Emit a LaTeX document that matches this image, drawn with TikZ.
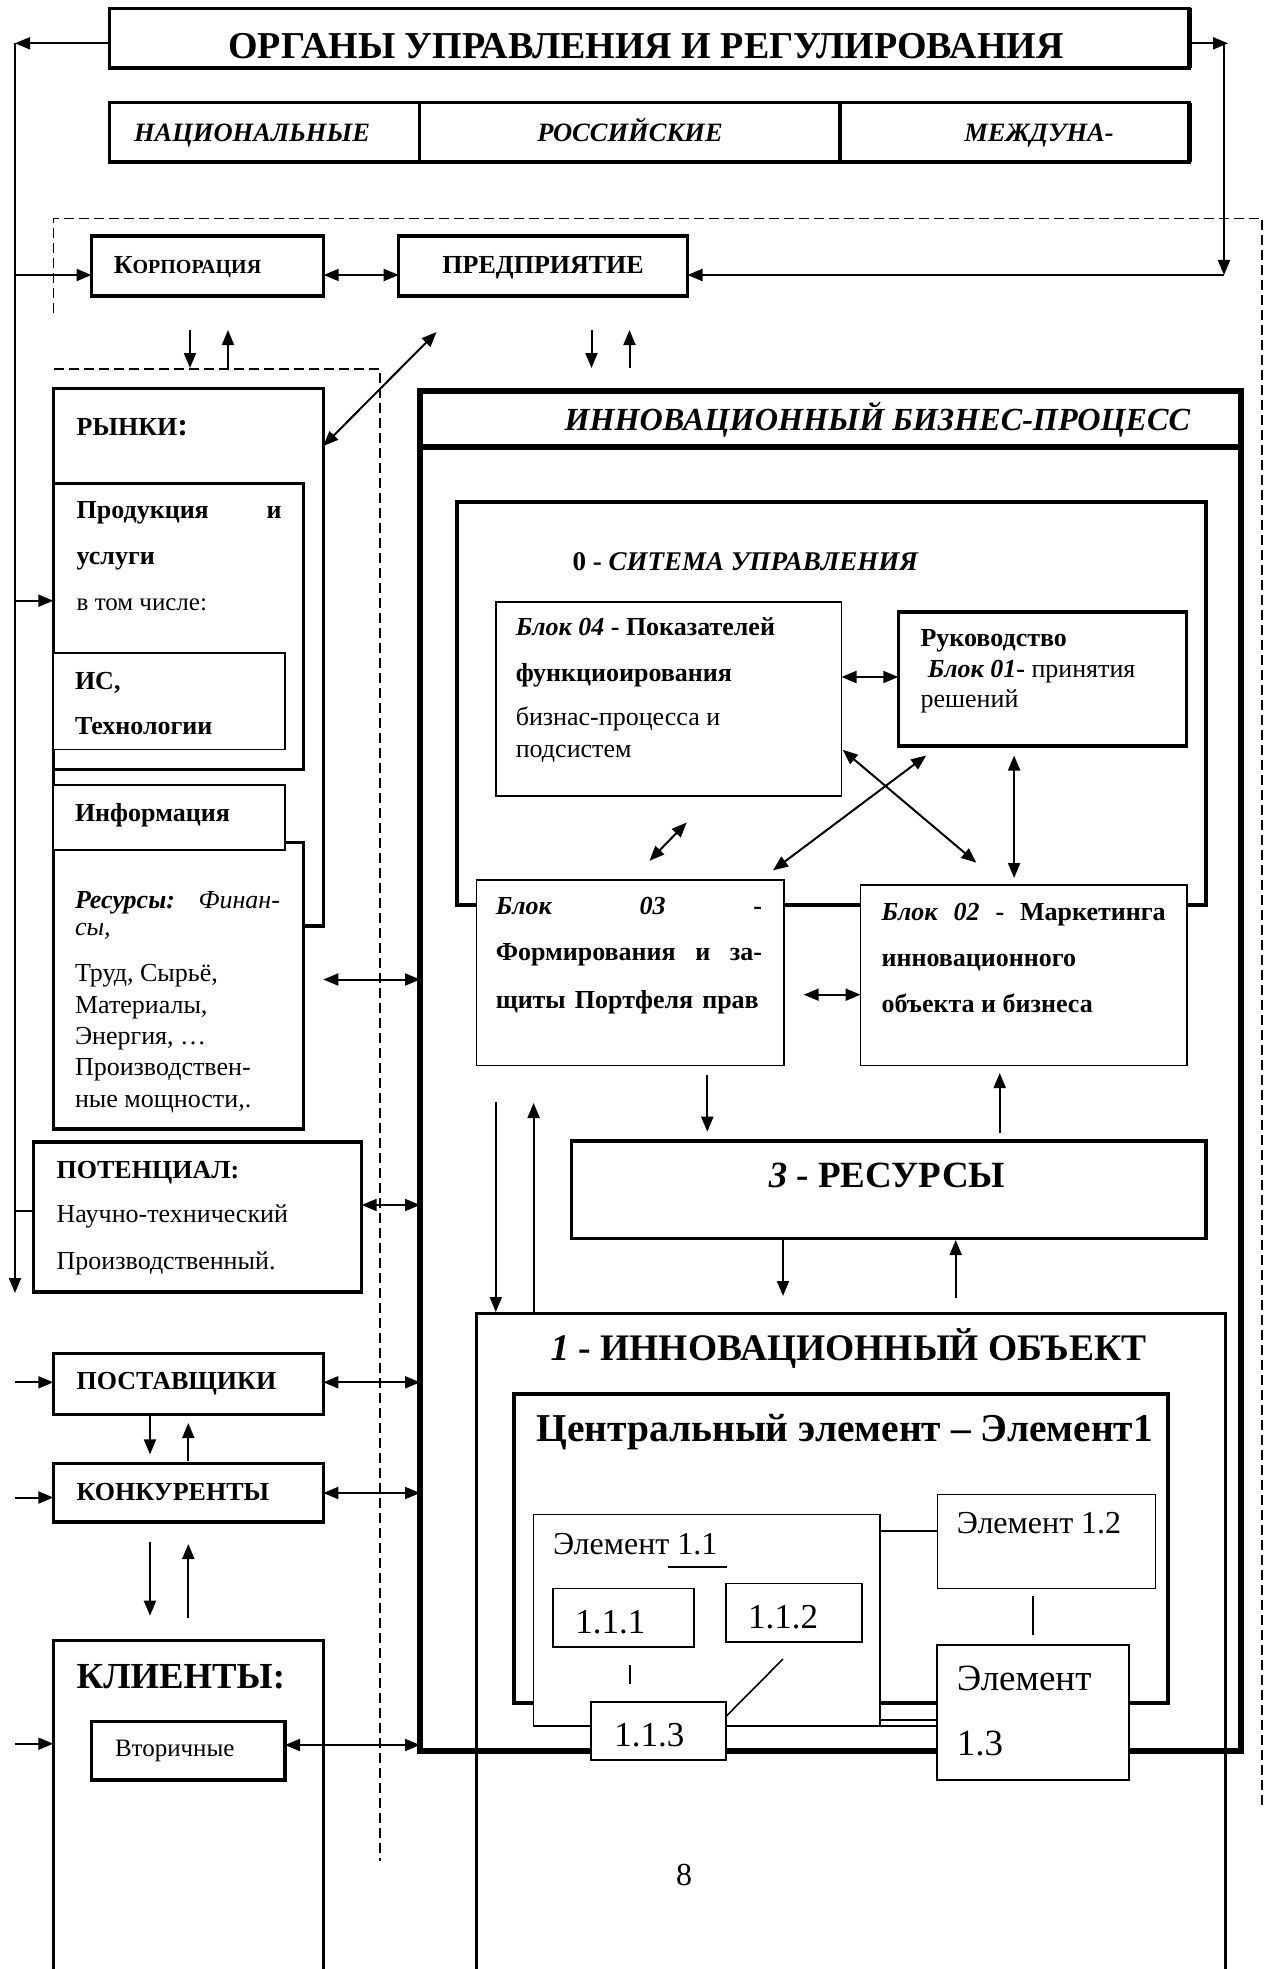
\documentclass[tikz,border=0pt]{standalone}
\usepackage{fontspec}
\setmainfont{Liberation Serif}
\usetikzlibrary{arrows.meta,calc}
\tikzset{
  box/.style={draw, fill=white, inner sep=0pt, outer sep=0pt, line width=1.6pt},
  thk/.style={line width=3.5pt},
  thn/.style={line width=1.6pt},
  arr/.style={line width=2pt, -{Triangle[length=15pt,width=12pt]}},
  darr/.style={line width=2pt, {Triangle[length=15pt,width=12pt]}-{Triangle[length=15pt,width=12pt]}},
  ln/.style={line width=1.6pt},
  txt/.style={anchor=base west, inner sep=0pt, outer sep=0pt},
  ctxt/.style={anchor=base, inner sep=0pt, outer sep=0pt},
  etxt/.style={anchor=base east, inner sep=0pt, outer sep=0pt},
  fs/.style={font=\fontsize{#1}{#1}\selectfont},
  dsh/.style={line width=1.5pt, dash pattern=on 10pt off 5pt},
}
\newcommand{\bx}[6]{\node[box,#6,minimum width={#4pt-#2pt},minimum height={#5pt-#3pt}] (#1) at ({(#2+#4)/2},{(#3+#5)/2}) {};}
\begin{document}
\begin{tikzpicture}[x=1pt,y=-1pt]
\useasboundingbox (0,0) rectangle (1273,1969);
\clip (0,0) rectangle (1273,1969);

% dashed regions
\coordinate (d1) at (53.6,313); \coordinate (d2) at (53.6,218.3);
\coordinate (d3) at (1262,218.3); \coordinate (d4) at (1262,1808);
\draw[dsh] (d1) -- (d2) -- (d3) -- (d4);
\coordinate (e1) at (53.6,369); \coordinate (e2) at (380,369); \coordinate (e3) at (380,1861);
\draw[dsh] (e1) -- (e2) -- (e3);

% title and row
\bx{title}{109.6}{8.3}{1189}{68.3}{thk}
\draw[line width=2.5pt] ($(title.south west)+(0,-1.5)$) -- ($(title.south east)+(1.5,-1.5)$) -- ($(title.north east)+(1.5,0)$);
\node[ctxt,fs=38] (ttitle) at (646,58.3) {\bfseries ОРГАНЫ УПРАВЛЕНИЯ И РЕГУЛИРОВАНИЯ};
\bx{row1}{109.6}{102.7}{419.6}{162.7}{thk}
\bx{row2}{419.6}{102.7}{840}{162.7}{thk}
\bx{row3}{840}{102.7}{1189}{162.7}{thk}
\draw[line width=2.5pt] ($(row1.south west)+(0,-1.5)$) -- ($(row3.south east)+(1.5,-1.5)$) -- ($(row3.north east)+(1.5,0)$);
\node[ctxt,fs=26.5] (tr1) at (252,141.7) {\bfseries\itshape НАЦИОНАЛЬНЫЕ};
\node[ctxt,fs=26.5] (tr2) at (630,141.7) {\bfseries\itshape РОССИЙСКИЕ};
\node[ctxt,fs=26.5] (tr3) at (1039,141.7) {\bfseries\itshape МЕЖДУНА-};

% big process box
\bx{ibp}{420}{390.5}{1241}{1751}{line width=6pt,fill=none}
\bx{ibph}{420}{390.5}{1241}{447}{line width=6pt,fill=none}
\node[etxt,fs=32.2] (tibp) at (1190,430) {\bfseries\itshape ИННОВАЦИОННЫЙ БИЗНЕС-ПРОЦЕСС};

% corporation / enterprise
\bx{korp}{91.5}{236}{323.7}{296}{thk}
\bx{pred}{398.7}{236}{687.5}{296}{thk}
\node[txt] (tkorp) at (113.8,273.3) {\bfseries{\fontsize{26}{26}\selectfont К}\fontsize{20}{20}\selectfont ОРПОРАЦИЯ};
\node[ctxt,fs=26] (tpred) at (543.1,273.3) {\bfseries ПРЕДПРИЯТИЕ};

% left and right feedback lines
\coordinate (Lt) at (15,43.3); \coordinate (Lb) at (15,1293);
\draw[arr] (title.west |- Lt) -- (Lt);
\draw[arr] (Lt) -- (Lb);
\coordinate (Rt) at (1224,43.3); \coordinate (Rtip) at (1228,43.3); \coordinate (Rb) at (1224,275);
\draw[arr] (title.east |- Rt) -- (Rtip);
\draw[arr] (Rt) -- (Rb);
\draw[arr] (Rb) -- (pred.east |- Rb);
\coordinate (k1) at (15,275);
\draw[arr] (k1) -- (korp.west |- k1);
\draw[darr] (korp.east |- k1) -- (pred.west |- k1);

% small vertical pairs
\coordinate (a1) at (190,330); \coordinate (a2) at (190,368); \draw[arr] (a1) -- (a2);
\coordinate (a3) at (228,368); \coordinate (a4) at (228,330); \draw[arr] (a3) -- (a4);
\coordinate (a5) at (591.5,330); \coordinate (a6) at (591.5,368); \draw[arr] (a5) -- (a6);
\coordinate (a7) at (629.5,368); \coordinate (a8) at (629.5,330); \draw[arr] (a7) -- (a8);

% markets group
\bx{ryn}{53.3}{388.3}{323.3}{926}{thk}
\bx{prod}{53.3}{483.3}{303.3}{769.6}{thk}
\bx{isb}{53.3}{652.7}{285}{749.6}{thn}
\bx{res}{53.3}{842.4}{303.3}{1129}{thk}
\bx{inf}{53.3}{785}{285}{850}{thn}
\coordinate (g1) at (436.6,332);
\draw[darr] (ryn.east |- 0,446) -- (g1);
\node[txt,fs=26] (tryn) at (76.7,435) {\bfseries РЫНКИ{\fontsize{32}{32}\selectfont:}};
\node[txt,fs=26] (tprod) at (76.7,518.3) {\bfseries Продукция};
\node[etxt,fs=26] (tprodi) at (281.7,518.3) {\bfseries и};
\node[txt,fs=26] (tusl) at (76.7,564) {\bfseries услуги};
\node[txt,fs=25] (ttom) at (76.7,610) {в том числе:};
\node[txt,fs=26] (tis) at (75,689) {\bfseries ИС,};
\node[txt,fs=26] (ttech) at (75,734) {\bfseries Технологии};
\node[txt,fs=26] (tinf) at (75,821) {\bfseries Информация};
\node[txt,fs=26] (tres1) at (75,908) {\makebox[205pt][s]{\bfseries\itshape Ресурсы: \mdseries Финан-}};
\node[txt,fs=26] (tres2) at (75,935) {\itshape сы,};
\node[txt,fs=26] (tres3) at (75,981.7) {Труд, Сырьё,};
\node[txt,fs=26] (tres4) at (75,1013) {Материалы,};
\node[txt,fs=26] (tres5) at (75,1044) {Энергия, …};
\node[txt,fs=26] (tres6) at (75,1075) {Производствен-};
\node[txt,fs=26] (tres7) at (75,1107) {ные мощности,.};
\coordinate (k2) at (15,600.7);
\draw[arr] (k2) -- (prod.west |- k2);
\coordinate (r1) at (323.3,979.5);
\draw[darr] (r1) -- (ibp.west |- r1);

% potential
\bx{pot}{33.3}{1142}{361.7}{1292}{thk}
\node[txt,fs=26] (tpot1) at (56.7,1178) {\bfseries ПОТЕНЦИАЛ:};
\node[txt,fs=26] (tpot2) at (56.7,1222.8) {Научно-технический};
\node[txt,fs=26] (tpot3) at (56.7,1269.6) {Производственный.};
\coordinate (p1) at (15,1210.7);
\draw[line width=2pt] (p1) -- (pot.west |- p1);
\coordinate (p2) at (361.7,1205);
\draw[darr] (pot.east |- p2) -- (ibp.west |- p2);

% suppliers, competitors, clients
\bx{post}{53.3}{1353.3}{323.3}{1414.3}{thk}
\node[txt,fs=26] (tpost) at (76.7,1389.6) {\bfseries ПОСТАВЩИКИ};
\coordinate (q1) at (15,1382.3);
\draw[arr] (q1) -- (post.west |- q1);
\draw[darr] (post.east |- q1) -- (ibp.west |- q1);
\coordinate (q2) at (150,1416); \coordinate (q3) at (150,1454.4); \draw[arr] (q2) -- (q3);
\coordinate (q4) at (188.3,1461); \coordinate (q5) at (188.3,1423); \draw[arr] (q4) -- (q5);

\bx{konk}{53.3}{1463.4}{323.3}{1521.8}{thk}
\node[txt,fs=26] (tkonk) at (76.7,1500.5) {\bfseries КОНКУРЕНТЫ};
\coordinate (c1) at (15,1497.5);
\draw[arr] (c1) -- (konk.west |- c1);
\coordinate (c2) at (323.3,1493);
\draw[darr] (konk.east |- c2) -- (ibp.west |- c2);
\coordinate (c3) at (150,1542); \coordinate (c4) at (150,1615.7); \draw[arr] (c3) -- (c4);
\coordinate (c5) at (188.3,1617.8); \coordinate (c6) at (188.3,1544); \draw[arr] (c5) -- (c6);

\bx{kli}{53.3}{1640.4}{323.3}{2000}{thk}
\node[txt,fs=36.7] (tkli) at (76.7,1688) {\bfseries КЛИЕНТЫ:};
\coordinate (m1) at (15,1743.7);
\draw[arr] (m1) -- (kli.west |- m1);
\bx{vtor}{91.7}{1721.5}{285}{1780}{thk}
\node[txt,fs=25] (tvtor) at (115,1756.5) {Вторичные};
\coordinate (m2) at (285,1745);
\draw[darr] (vtor.east |- m2) -- (ibp.west |- m2);

% management system
\bx{sys}{456.8}{502.2}{1206}{904.8}{thk}
\node[txt,fs=27] (tsys) at (572.6,570) {\bfseries 0 - \itshape СИТЕМА УПРАВЛЕНИЯ};
\bx{b04}{495.8}{601.7}{841.5}{796}{thn}
\node[txt,fs=26] (tb041) at (515.8,635) {\bfseries\itshape Блок 04 \upshape - Показателей};
\node[txt,fs=26] (tb042) at (515.8,681) {\bfseries функциоирования};
\node[txt,fs=26] (tb043) at (515.8,725) {бизнас-процесса и};
\node[txt,fs=26] (tb044) at (515.8,757.5) {подсистем};
\bx{ruk}{898.3}{612}{1186.7}{746}{thk}
\node[txt,fs=26] (truk1) at (920.6,646.5) {\bfseries Руководство};
\node[txt,fs=26] (truk2) at (927.8,677) {{\bfseries\itshape Блок 01}{\bfseries -} принятия};
\node[txt,fs=26] (truk3) at (920.6,707.7) {решений};
\bx{b03}{476.3}{880}{784.2}{1065.5}{thn}
\node[txt,fs=26] (tb031) at (495.8,914.4) {\makebox[266.2pt][s]{\bfseries\itshape Блок 03 \upshape-}};
\node[txt,fs=26] (tb032) at (495.8,960.3) {\makebox[266.2pt][s]{\bfseries Формирования и за-}};
\node[txt,fs=26] (tb033) at (495.8,1008) {\makebox[263pt][s]{\bfseries щиты Портфеля прав}};
\bx{b02}{860.5}{885}{1186.7}{1065.5}{thn}
\node[txt,fs=26] (tb021) at (881.6,920) {\makebox[284pt][s]{\bfseries\itshape Блок 02 \upshape - Маркетинга}};
\node[txt,fs=26] (tb022) at (881.6,966) {\bfseries инновационного};
\node[txt,fs=26] (tb023) at (881.6,1012) {\bfseries объекта и бизнеса};

\draw[darr] (b04.east |- 0,677) -- (ruk.west |- 0,677);
\coordinate (x1) at (842.7,749.8); \coordinate (x2) at (976.3,862.7); \draw[darr] (x1) -- (x2);
\coordinate (x3) at (926.2,755.5); \coordinate (x4) at (773,870.4); \draw[darr] (x3) -- (x4);
\coordinate (v1) at (1014.1,755.5); \coordinate (v2) at (1014.1,878); \draw[darr] (v1) -- (v2);
\coordinate (s1) at (686.7,822.5); \coordinate (s2) at (649.4,860.8); \draw[darr] (s1) -- (s2);
\coordinate (h1) at (803.7,994.7); \draw[darr] (h1) -- (b02.west |- h1);

% resources
\bx{resr}{571.5}{1141}{1206.2}{1238.3}{thk}
\node[ctxt,fs=37] (tresr) at (887,1187.3) {\bfseries\itshape 3 \upshape - РЕСУРСЫ};
\coordinate (u1) at (707.3,1075); \coordinate (u2) at (707.3,1131.7); \draw[arr] (u1) -- (u2);
\coordinate (u3) at (999.7,1133.3); \coordinate (u4) at (999.7,1073); \draw[arr] (u3) -- (u4);
\coordinate (u5) at (783,1238.3); \coordinate (u6) at (783,1296); \draw[arr] (u5) -- (u6);
\coordinate (u7) at (955.7,1298.3); \coordinate (u8) at (955.7,1240); \draw[arr] (u7) -- (u8);
\coordinate (w1) at (495.8,1102); \coordinate (w2) at (495.8,1312); \draw[arr] (w1) -- (w2);
\coordinate (w3) at (533.6,1312); \coordinate (w4) at (533.6,1103); \draw[arr] (w3) -- (w4);

% innovation object
\bx{obj}{476.3}{1313.3}{1225.7}{2000}{line width=3pt,fill=none}
\node[ctxt,fs=37.5] (tobj) at (848.7,1360) {\bfseries\itshape 1 \upshape - ИННОВАЦИОННЫЙ ОБЪЕКТ};
\bx{cen}{514}{1394.3}{1168.4}{1703.3}{line width=4pt}
\node[txt,fs=39.5] (tcen) at (536.4,1441.7) {\bfseries Центральный элемент – Элемент1};
\bx{e11}{533.6}{1514.3}{880}{1725.7}{thn}
\node[txt,fs=32] (te11) at (553,1554) {Элемент 1.1};
\coordinate (ul1) at (668.4,1566.7); \coordinate (ul2) at (726.8,1566.7);
\draw[ln] (ul1) -- (ul2);
\bx{e111}{553}{1588.3}{694}{1646.7}{thn}
\node[txt,fs=35] (te111) at (575.4,1633.3) {1.1.1};
\bx{e112}{725.7}{1583.3}{862}{1641.7}{thn}
\node[txt,fs=35] (te112) at (748,1628) {1.1.2};
\coordinate (l1) at (630,1665); \coordinate (l2) at (630,1684); \draw[ln] (l1) -- (l2);
\coordinate (l3) at (783,1659);
\bx{e113}{591}{1702.3}{725.7}{1760}{line width=2pt}
\node[txt,fs=35] (te113) at (614.4,1746.7) {1.1.3};
\draw[ln] (l3) -- (e113.east |- 0,1716.7);
\bx{e12}{937.3}{1494.3}{1155.6}{1588.3}{thn}
\node[txt,fs=32] (te12) at (956.8,1533.3) {Элемент 1.2};
\draw[ln] (e11.east |- 0,1531) -- (e12.west |- 0,1531);
\coordinate (l4) at (1033,1596); \coordinate (l5) at (1033,1635); \draw[ln] (l4) -- (l5);
\bx{e13}{937.3}{1645}{1129.4}{1780}{line width=2pt}
\node[txt,fs=37] (te131) at (956.8,1690) {Элемент};
\node[txt,fs=37] (te132) at (956.8,1755) {1.3};
\draw[ln] (e11.east |- 0,1720) -- (e13.west |- 0,1720);
\draw[ln] (e11.east |- 0,1726) -- (e13.west |- 0,1726);

\node[ctxt,fs=32] (tpage) at (684,1885) {8};
\end{tikzpicture}
\end{document}
